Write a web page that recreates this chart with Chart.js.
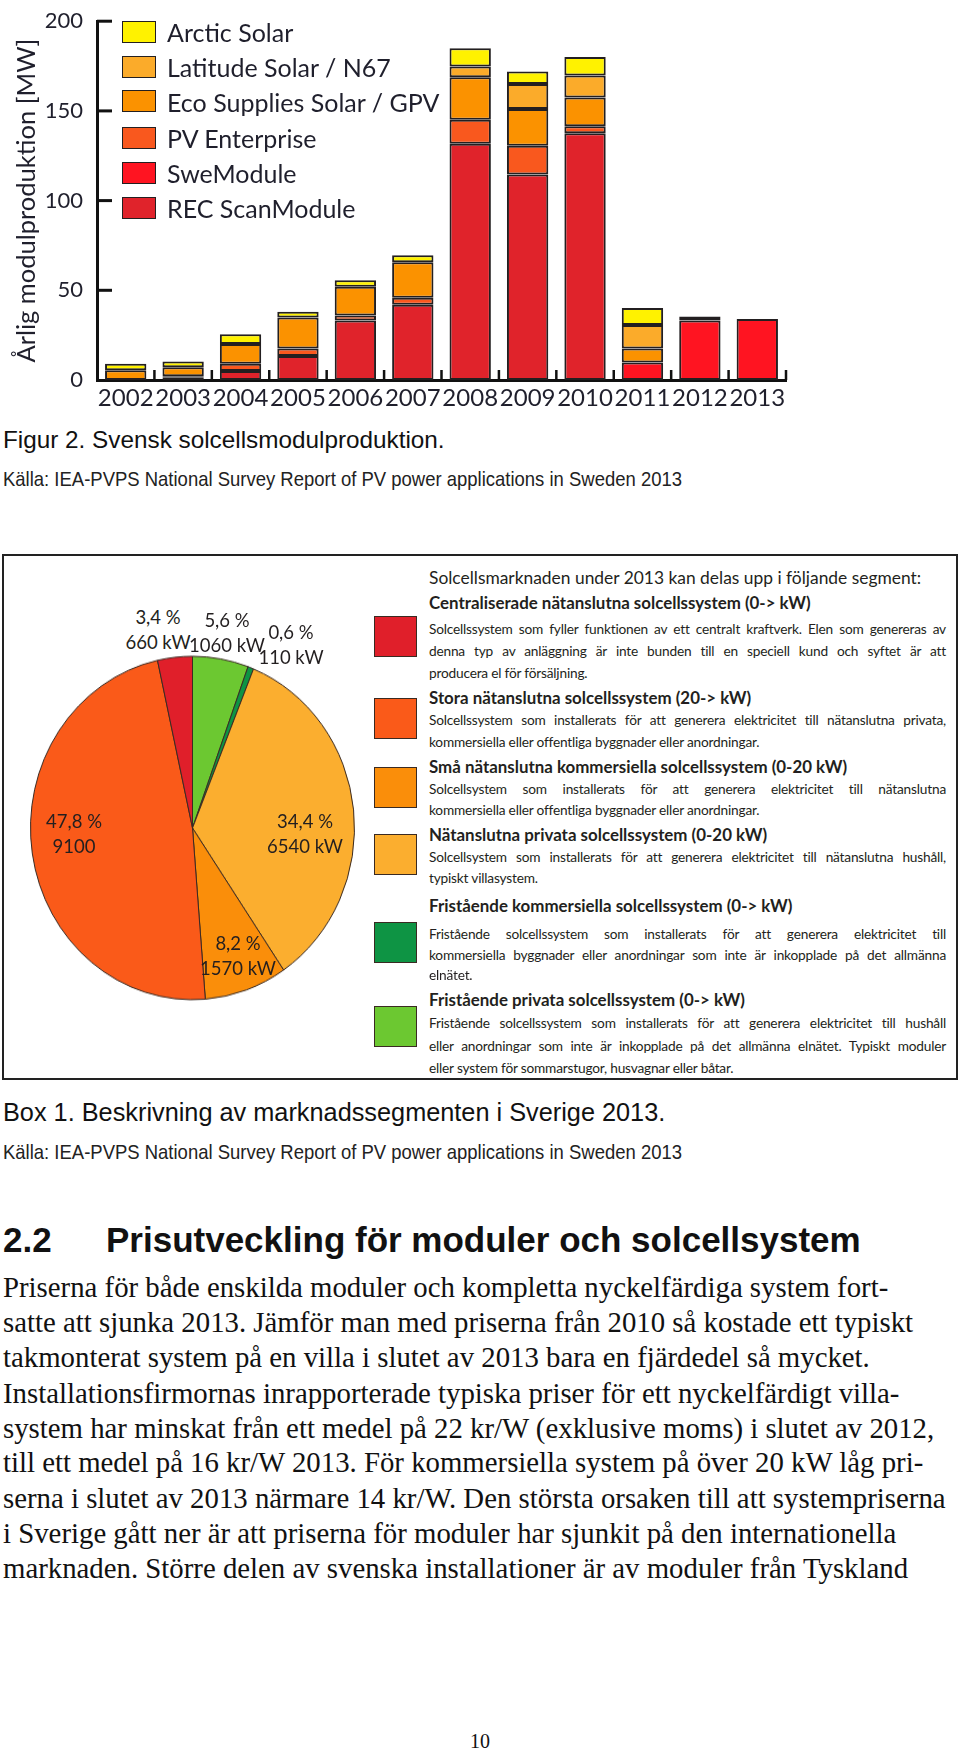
<!DOCTYPE html>
<html lang="sv">
<head>
<meta charset="utf-8">
<script src="https://cdn.jsdelivr.net/npm/chart.js"></script>
<style>
  html, body { margin: 0; padding: 0; background: #fff; }
  body { position: relative; width: 960px; height: 1750px; overflow: hidden; color: #231f20; }
  .t { position: absolute; white-space: nowrap; line-height: 1; transform: translateY(-50%); }
  .leg { font-family: Lato, sans-serif; font-size: 25px; color: #1f1f2c; }
  .sw { position: absolute; width: 34px; height: 22px; border: 1.5px solid #231f20; box-sizing: border-box; }
  .cap { font-family: "Liberation Sans", Arial, sans-serif; color: #111; left: 3px; }
  .src { font-family: "Liberation Sans", Arial, sans-serif; font-size: 21px; color: #222; left: 3px; transform-origin: 0 50%; transform: translateY(-50%) scaleX(0.88); }
  .pl { font-family: Lato, sans-serif; font-size: 18.5px; text-align: center; line-height: 25px; color: #231f20; transform: translate(-50%, -50%); }
  .bx { font-family: Lato, sans-serif; left: 429px; color: #231f20; }
  .in { font-size: 17.4px; }
  .hd { font-size: 16.9px; font-weight: bold; }
  .bd { font-size: 13.7px; letter-spacing: -0.2px; }
  .j { width: 517px; text-align: justify; text-align-last: justify; }
  .psw { position: absolute; left: 374px; width: 43px; height: 41px; border: 1px solid #3a2a22; box-sizing: border-box; }
  .body { font-family: "Liberation Serif", "Times New Roman", serif; font-size: 28.8px; color: #111; left: 3px; }
</style>
</head>
<body>

<!-- Figur 2: staplat stapeldiagram -->
<div style="position:absolute;left:0;top:-6px;width:800px;height:421px"><canvas id="barChart"></canvas></div>

<div class="sw" style="left:122px;top:21px;background:#FFF200"></div>
<div class="sw" style="left:122px;top:56px;background:#FBAB2A"></div>
<div class="sw" style="left:122px;top:90px;background:#FB9200"></div>
<div class="sw" style="left:122px;top:127px;background:#F9581E"></div>
<div class="sw" style="left:122px;top:162px;background:#FF1421"></div>
<div class="sw" style="left:122px;top:197px;background:#E0232B"></div>
<div class="t leg" style="left:167px;top:32px">Arctic Solar</div>
<div class="t leg" style="left:167px;top:67px">Latitude Solar / N67</div>
<div class="t leg" style="left:167px;top:102px">Eco Supplies Solar / GPV</div>
<div class="t leg" style="left:167px;top:138px">PV Enterprise</div>
<div class="t leg" style="left:167px;top:173px">SweModule</div>
<div class="t leg" style="left:167px;top:208px">REC ScanModule</div>

<div class="t cap" style="top:440px;font-size:24.3px">Figur 2. Svensk solcellsmodulproduktion.</div>
<div class="t src" style="top:478px">Källa: IEA-PVPS National Survey Report of PV power applications in Sweden 2013</div>

<!-- Box 1: cirkeldiagram -->
<div style="position:absolute;left:2px;top:554px;width:956px;height:526px;border:2px solid #222;box-sizing:border-box"></div>
<div style="position:absolute;left:30px;top:665px;width:325px;height:326px;transform:scaleY(1.06);transform-origin:50% 50%"><canvas id="pieChart"></canvas></div>

<div class="t pl" style="left:158px;top:630px">3,4 %<br>660 kW</div>
<div class="t pl" style="left:227px;top:633px">5,6 %<br>1060 kW</div>
<div class="t pl" style="left:291px;top:645px">0,6 %<br>110 kW</div>
<div class="t pl" style="left:74px;top:834px">47,8 %<br>9100</div>
<div class="t pl" style="left:305px;top:834px">34,4 %<br>6540 kW</div>
<div class="t pl" style="left:238px;top:956px">8,2 %<br>1570 kW</div>

<div class="psw" style="top:616px;background:#E01F2A"></div>
<div class="psw" style="top:698px;background:#FA5A19"></div>
<div class="psw" style="top:767px;background:#FA8E0A"></div>
<div class="psw" style="top:834px;background:#FBAE2F"></div>
<div class="psw" style="top:922px;background:#0E9444"></div>
<div class="psw" style="top:1006px;background:#6CC831"></div>

<div class="t bx in" style="top:578px">Solcellsmarknaden under 2013 kan delas upp i följande segment:</div>
<div class="t bx hd" style="top:603px">Centraliserade nätanslutna solcellssystem (0-&gt; kW)</div>
<div class="t bx bd j" style="top:629px">Solcellssystem som fyller funktionen av ett centralt kraftverk. Elen som genereras av</div>
<div class="t bx bd j" style="top:651px">denna typ av anläggning är inte bunden till en speciell kund och syftet är att</div>
<div class="t bx bd" style="top:673px">producera el för försäljning.</div>
<div class="t bx hd" style="top:698px">Stora nätanslutna solcellssystem (20-&gt; kW)</div>
<div class="t bx bd j" style="top:720px">Solcellssystem som installerats för att generera elektricitet till nätanslutna privata,</div>
<div class="t bx bd" style="top:742px">kommersiella eller offentliga byggnader eller anordningar.</div>
<div class="t bx hd" style="top:767px">Små nätanslutna kommersiella solcellssystem (0-20 kW)</div>
<div class="t bx bd j" style="top:789px">Solcellsystem som installerats för att generera elektricitet till nätanslutna</div>
<div class="t bx bd" style="top:810px">kommersiella eller offentliga byggnader eller anordningar.</div>
<div class="t bx hd" style="top:835px">Nätanslutna privata solcellssystem (0-20 kW)</div>
<div class="t bx bd j" style="top:857px">Solcellsystem som installerats för att generera elektricitet till nätanslutna hushåll,</div>
<div class="t bx bd" style="top:878px">typiskt villasystem.</div>
<div class="t bx hd" style="top:906px">Fristående kommersiella solcellssystem (0-&gt; kW)</div>
<div class="t bx bd j" style="top:934px">Fristående solcellssystem som installerats för att generera elektricitet till</div>
<div class="t bx bd j" style="top:955px">kommersiella byggnader eller anordningar som inte är inkopplade på det allmänna</div>
<div class="t bx bd" style="top:975px">elnätet.</div>
<div class="t bx hd" style="top:1000px">Fristående privata solcellssystem (0-&gt; kW)</div>
<div class="t bx bd j" style="top:1023px">Fristående solcellssystem som installerats för att generera elektricitet till hushåll</div>
<div class="t bx bd j" style="top:1046px">eller anordningar som inte är inkopplade på det allmänna elnätet. Typiskt moduler</div>
<div class="t bx bd" style="top:1068px">eller system för sommarstugor, husvagnar eller båtar.</div>

<div class="t cap" style="top:1113px;font-size:25.3px">Box 1. Beskrivning av marknadssegmenten i Sverige 2013.</div>
<div class="t src" style="top:1151px">Källa: IEA-PVPS National Survey Report of PV power applications in Sweden 2013</div>

<!-- Avsnitt 2.2 -->
<div class="t" style="left:3px;top:1240px;font:bold 35px 'Liberation Sans', Arial, sans-serif;color:#111">2.2</div>
<div class="t" style="left:106px;top:1240px;font:bold 35px 'Liberation Sans', Arial, sans-serif;color:#111">Prisutveckling för moduler och solcellsystem</div>

<div class="t body" style="top:1287px">Priserna för både enskilda moduler och kompletta nyckelfärdiga system fort-</div>
<div class="t body" style="top:1322px">satte att sjunka 2013. Jämför man med priserna från 2010 så kostade ett typiskt</div>
<div class="t body" style="top:1357px">takmonterat system på en villa i slutet av 2013 bara en fjärdedel så mycket.</div>
<div class="t body" style="top:1393px">Installationsfirmornas inrapporterade typiska priser för ett nyckelfärdigt villa-</div>
<div class="t body" style="top:1428px">system har minskat från ett medel på 22 kr/W (exklusive moms) i slutet av 2012,</div>
<div class="t body" style="top:1462px">till ett medel på 16 kr/W 2013. För kommersiella system på över 20 kW låg pri-</div>
<div class="t body" style="top:1498px">serna i slutet av 2013 närmare 14 kr/W. Den största orsaken till att systempriserna</div>
<div class="t body" style="top:1533px">i Sverige gått ner är att priserna för moduler har sjunkit på den internationella</div>
<div class="t body" style="top:1568px">marknaden. Större delen av svenska installationer är av moduler från Tyskland</div>

<div class="t" style="left:480px;top:1741px;transform:translate(-50%,-50%);font:20px 'Liberation Serif', serif;color:#111">10</div>

<script>
// Data: årlig modulproduktion [MW]
const years = ['2002', '2003', '2004', '2005', '2006', '2007', '2008', '2009', '2010', '2011', '2012', '2013'];
const recScanModule = [null, 1.2, 5.0, 13.4, 33.2, 42.0, 131.7, 114.5, 137.6, null, null, null];
const sweModule = [null, null, null, null, null, null, null, null, null, 9.8, 33.2, 34.0];
const pvEnterprise = [null, 0.9, 4.0, 4.1, 2.7, 3.8, 13.4, 16.1, 3.8, null, null, null];
const ecoSupplies = [5.4, 5.0, 11.1, 17.4, 16.1, 19.9, 23.7, 20.4, 16.0, 7.7, null, null];
const latitudeSolar = [null, null, null, null, null, null, 5.9, 14.0, 12.4, 13.2, 2.2, null];
const arcticSolar = [3.6, 3.2, 5.4, 3.1, 3.6, 3.8, 10.2, 7.0, 10.2, 9.5, null, null];
const yTicks = [0, 50, 100, 150, 200];

// Data: marknadssegment 2013 [kW]
const segments = ['Fristående privata', 'Fristående kommersiella', 'Nätanslutna privata',
    'Små nätanslutna kommersiella', 'Stora nätanslutna', 'Centraliserade nätanslutna'];
const segmentKW = [1060, 110, 6540, 1570, 9100, 660];

const colors = {
    rec: '#E0232B', swe: '#FF1421', pv: '#F9581E', eco: '#FB9200', lat: '#FBAB2A', arctic: '#FFF200',
    pie: ['#6CC831', '#0E9444', '#FBAE2F', '#FA8E0A', '#FA5A19', '#E01F2A'],
    ink: '#1f1f2c'
};

// Markeringar på axlarna (inåtriktade)
const axisMarks = {
    id: 'axisMarks',
    afterDraw(chart) {
        const { ctx, chartArea, scales } = chart;
        ctx.save();
        ctx.strokeStyle = '#111';
        ctx.lineWidth = 3;
        yTicks.slice(1).forEach(v => {
            const y = scales.y.getPixelForValue(v);
            ctx.beginPath();
            ctx.moveTo(chartArea.left, y);
            ctx.lineTo(chartArea.left + 15, y);
            ctx.stroke();
        });
        ctx.lineWidth = 2.5;
        const step = scales.x.getPixelForValue(1) - scales.x.getPixelForValue(0);
        years.forEach((_, i) => {
            const x = scales.x.getPixelForValue(i) + step / 2;
            ctx.beginPath();
            ctx.moveTo(x, chartArea.bottom);
            ctx.lineTo(x, chartArea.bottom - 10);
            ctx.stroke();
        });
        ctx.restore();
    }
};

function barSet(label, data, color) {
    return {
        label, data,
        backgroundColor: color,
        borderColor: '#231f20',
        borderWidth: 2,
        borderSkipped: false,
        categoryPercentage: 1,
        barPercentage: 0.72
    };
}

new Chart(document.getElementById('barChart'), {
    type: 'bar',
    data: {
        labels: years,
        datasets: [
            barSet('REC ScanModule', recScanModule, colors.rec),
            barSet('SweModule', sweModule, colors.swe),
            barSet('PV Enterprise', pvEnterprise, colors.pv),
            barSet('Eco Supplies Solar / GPV', ecoSupplies, colors.eco),
            barSet('Latitude Solar / N67', latitudeSolar, colors.lat),
            barSet('Arctic Solar', arcticSolar, colors.arctic)
        ]
    },
    options: {
        responsive: true,
        maintainAspectRatio: false,
        animation: false,
        layout: { padding: { left: 0, right: 14, top: 0, bottom: 0 } },
        plugins: { legend: { display: false }, tooltip: { enabled: false } },
        scales: {
            x: {
                stacked: true,
                grid: { display: false, drawTicks: false },
                border: { display: true, color: '#111', width: 3 },
                ticks: { color: colors.ink, padding: 4, font: { family: 'Lato', size: 24 }, maxRotation: 0, autoSkip: false },
                afterFit: s => { s.height = 35; }
            },
            y: {
                stacked: true,
                min: 0,
                max: 200,
                afterBuildTicks: s => { s.ticks = yTicks.map(v => ({ value: v })); },
                grid: { display: false, drawTicks: false },
                border: { display: true, color: '#111', width: 3 },
                ticks: { color: colors.ink, padding: 14, font: { family: 'Lato', size: 22 } },
                title: {
                    display: true,
                    text: 'Årlig modulproduktion [MW]',
                    color: colors.ink,
                    font: { family: 'Lato', size: 25.5 },
                    padding: { top: 11, bottom: 0 }
                },
                afterFit: s => { s.width = 97; }
            }
        }
    },
    plugins: [axisMarks]
});

new Chart(document.getElementById('pieChart'), {
    type: 'pie',
    data: {
        labels: segments,
        datasets: [{
            data: segmentKW,
            backgroundColor: colors.pie,
            borderColor: '#3a2a22',
            borderWidth: 1
        }]
    },
    options: {
        responsive: true,
        maintainAspectRatio: false,
        animation: false,
        layout: { padding: 0 },
        plugins: { legend: { display: false }, tooltip: { enabled: false } }
    }
});
</script>
</body>
</html>
